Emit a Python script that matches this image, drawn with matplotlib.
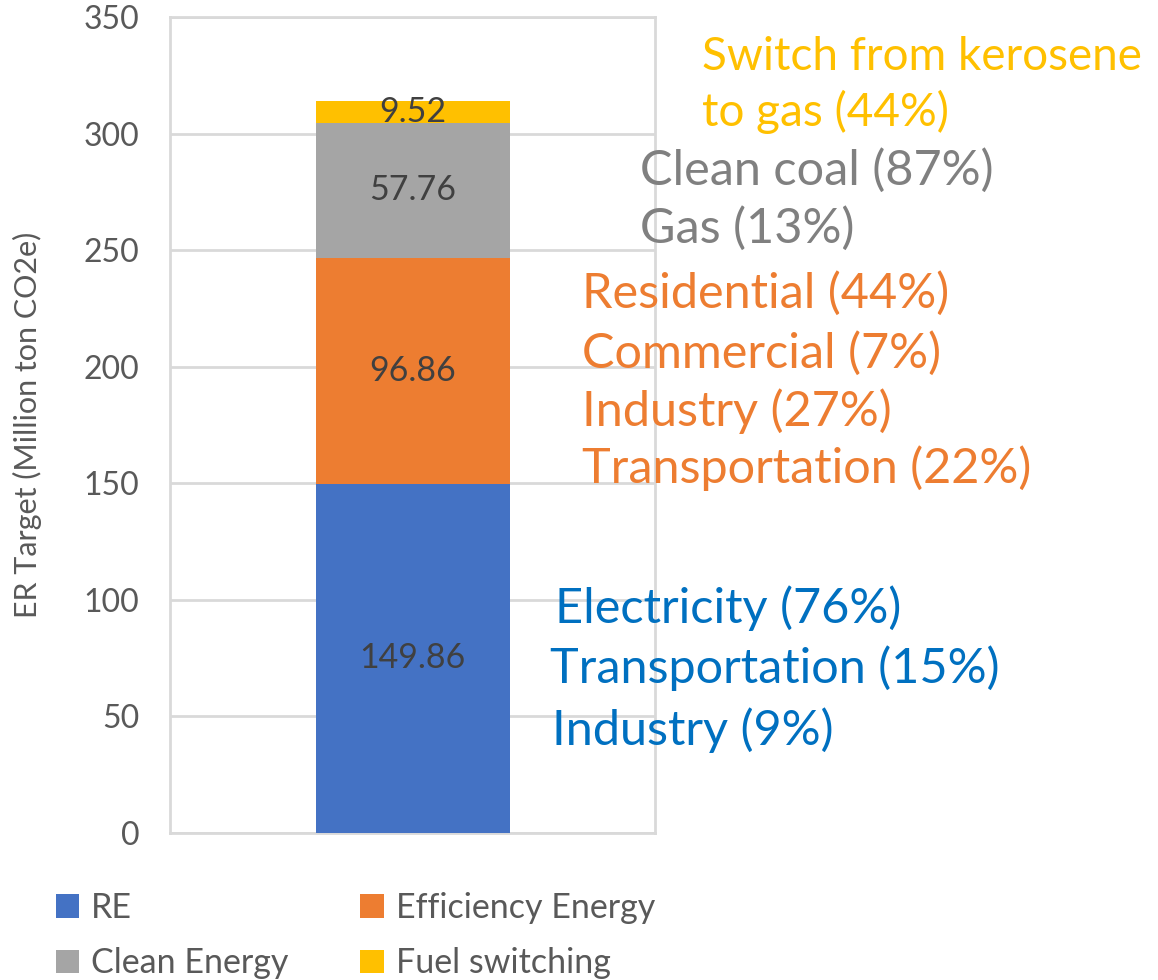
import matplotlib.pyplot as plt
from matplotlib.patches import Patch

# data
categories = ['RE', 'Efficiency Energy', 'Clean Energy', 'Fuel switching']
values = [149.86, 96.86, 57.76, 9.52]
bar_colors = ['#4472C4', '#ED7D31', '#A5A5A5', '#FFC000']

# side notes for each segment (text, colour, x px, y px, size)
notes = [
    (['Electricity (76%)', 'Transportation (15%)', 'Industry (9%)'], '#0070C0',
     [(555, 608), (550, 668), (552, 730)], 35),
    (['Residential (44%)', 'Commercial (7%)', 'Industry (27%)', 'Transportation (22%)'], '#ED7D31',
     [(582, 293), (582, 353), (582, 411), (582, 468)], 35),
    (['Clean coal (87%)', 'Gas (13%)'], '#808080',
     [(640, 170), (640, 228)], 35),
    (['Switch from kerosene', 'to gas (44%)'], '#FFC000',
     [(702, 57), (702, 112)], 33),
]

W, H = 1158, 980
plt.rcParams['font.family'] = ['Lato', 'DejaVu Sans']

fig = plt.figure(figsize=(W / 100, H / 100), dpi=100)
ax = fig.add_axes([170 / W, 1 - 833 / H, (655 - 170) / W, (833 - 17) / H])

bottom = 0
for cat, v, c in zip(categories, values, bar_colors):
    ax.bar(0, v, width=0.4, bottom=bottom, color=c, label=cat, zorder=3)
    ax.text(0, bottom + v / 2, f'{v:.2f}', ha='center', va='center',
            fontsize=24.5, color='#404040', zorder=4)
    bottom += v

ax.set_xlim(-0.5, 0.5)
ax.set_ylim(0, 350)
ax.set_yticks(range(0, 351, 50))
ax.set_xticks([])
ax.grid(axis='y', color='#D9D9D9', linewidth=2, zorder=0)
for s in ax.spines.values():
    s.set_color('#D9D9D9')
    s.set_linewidth(2)
ax.tick_params(axis='y', length=0, pad=22, labelsize=23, labelcolor='#595959')
ax.set_ylabel('ER Target (Million ton CO2e)', fontsize=22, color='#595959', labelpad=30)

for lines, col, pos, fs in notes:
    for t, (x, y) in zip(lines, pos):
        fig.text(x / W, 1 - y / H, t, color=col, fontsize=fs, ha='left', va='center')

# legend fills column by column, so reorder to match the 2x2 layout
order = [0, 2, 1, 3]
handles = [Patch(facecolor=bar_colors[i], label=categories[i]) for i in order]
fig.legend(handles=handles, ncol=2, frameon=False, fontsize=24.5,
           loc='upper left', bbox_to_anchor=(25 / W, 1 - 861 / H),
           handlelength=0.7, handleheight=0.7, handletextpad=0.35,
           columnspacing=2.1, labelspacing=0.7, labelcolor='#595959')

fig.savefig('out.png', dpi=100)
